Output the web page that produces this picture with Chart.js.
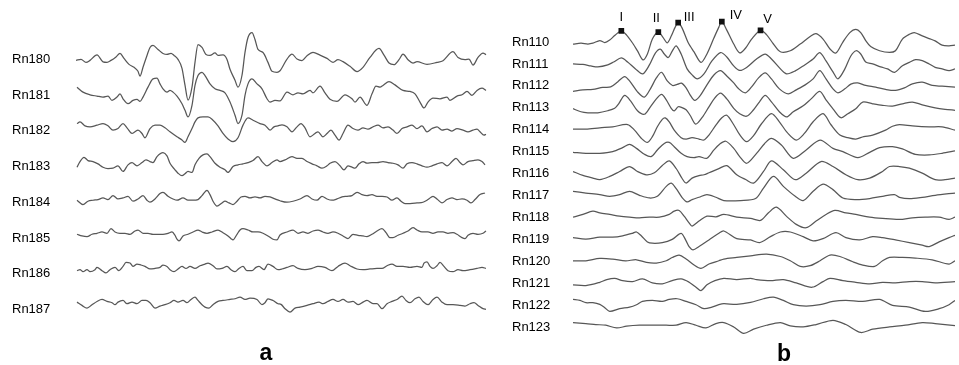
<!DOCTYPE html>
<html>
<head>
<meta charset="utf-8">
<script src="https://cdn.jsdelivr.net/npm/chart.js@4"></script>
<style>
  html, body { margin: 0; padding: 0; background: #fff; }
  #wrap { position: relative; width: 959px; height: 365px; overflow: hidden; }
  canvas { position: absolute; top: 0; }
  #chartA { left: 0; }
  #chartB { left: 500px; }
  .panel { position: absolute; font: bold 23px "Liberation Sans", Arial, sans-serif; color: #000; transform: translate(-50%, -50%); }
</style>
</head>
<body>
<div id="wrap">
  <canvas id="chartA" width="495" height="365"></canvas>
  <canvas id="chartB" width="459" height="365"></canvas>
  <div class="panel" style="left:266px; top:352px">a</div>
  <div class="panel" style="left:784px; top:353px">b</div>
</div>
<script>
// panel a: traces Rn180..Rn187, [time, amplitude]
const namesA = ['Rn180', 'Rn181', 'Rn182', 'Rn183', 'Rn184', 'Rn185', 'Rn186', 'Rn187'];

const rn180 = [[0,-1],[5,0],[10,-3],[14,-1],[21,4.5],[27,-2.5],[31,-3],[35,-1],[40,2.5],[44,6],[48,1],[53,-5],[58,-8],[62,-12],[64,-17],[67,-8],[71,4],[74,12],[77,14],[82,10],[87,6],[91,5],[95,6],[98,4],[102,0],[106,-9],[109,-26],[112,-41],[116,-28],[119,-3],[122,15],[126,12],[130,5],[134,4],[139,6.5],[142,4],[147,4.5],[151,0],[154,-10],[159,-21],[162,-28],[166,-16],[169,7],[172,22],[176,27],[179,20],[182,10],[187,7],[192,-3],[196,-12],[201,-13],[204,-11.5],[211,0.3],[216,5.3],[221,0.3],[226,-1.3],[231,3.7],[237,7],[244,4.3],[251,1],[257,-3],[262,-0.3],[267,-2.3],[274,-7],[281,-12.3],[287,-8],[294,2],[303,11],[308,4.3],[313,-3.7],[318,-5.3],[323,-0.3],[327,5.3],[332,-0.3],[337,-3.7],[341,-2.3],[351,-5],[361,-3],[367,-1.3],[377,7.7],[382,2],[389,-0.3],[393,0.3],[397,-5.7],[402,2],[407,6.3],[410,4.7]];
const rn181 = [[1,8],[7,3],[14,0.3],[21,-1],[27,-2],[32,-1],[36,-5.3],[41,-2],[44,1.3],[47,-3.7],[52,-8.7],[57,-5.3],[61,-4.3],[64,-6.3],[67,-2],[72,8],[77,16.3],[81,17],[84,11.3],[87,6.3],[91,3],[94,4.7],[97,3],[101,-1],[106,-8.7],[109,-15.3],[112,-22],[116,-10.3],[119,9.7],[122,19.7],[126,23],[129,19.7],[134,11.3],[139,6.3],[144,4.7],[149,2.3],[154,-7],[159,-20.3],[162,-28.7],[166,-20.3],[169,-0.3],[172,11.3],[176,16.3],[181,11.3],[186,6.3],[191,-3.7],[194,-7],[199,-5.3],[204,-5.8],[211,3],[217,0.3],[222,2.3],[227,1.3],[234,4.7],[237,2.3],[244,9],[249,2.3],[254,-4.3],[261,-6.3],[269,0.3],[276,-3.7],[279,-7],[284,-2],[291,-10.3],[296,1.3],[300,9],[304,8],[307,9.7],[313,13.7],[319,10.3],[327,4.7],[334,3.7],[339,1.3],[344,-7],[348,-13],[352,-7],[357,-3],[364,-3.7],[371,-2],[374,-5.3],[381,-1],[386,0.3],[391,3.7],[396,-0.3],[401,4.7],[406,7],[410,4.7]];
const rn182 = [[1,7.3],[4,9],[9,5],[14,4],[21,5.7],[27,7.3],[32,5],[37,0.7],[42,2.3],[47,7.3],[51,3],[56,-2.7],[59,-1],[62,0.7],[66,-2.7],[69,-7],[74,2.3],[79,5.7],[84,5.7],[89,3],[94,-1],[101,-6],[106,-9.3],[109,-11.7],[112,-6],[116,2.3],[119,9],[122,13],[127,14],[132,14],[137,10.7],[142,5],[147,-2.7],[152,-8.3],[157,-11],[162,-7],[167,5.7],[172,13],[177,10.7],[184,7.3],[189,5.7],[194,0.7],[198,4],[202,5],[206,6],[211,4],[216,-1],[221,4],[225,7.3],[229,3],[234,-6],[239,-2.7],[242,-1],[247,-6],[251,-2.7],[255,0.7],[259,-4.3],[263,-9.3],[267,-2.7],[272,5.7],[277,2.3],[282,0.7],[287,3],[292,1.7],[297,4],[302,5.7],[307,3],[312,4],[317,0.7],[321,-2.7],[326,2.3],[331,4],[336,5.7],[341,2.3],[346,5],[351,-1],[356,2.3],[361,4],[366,0.7],[371,1.7],[376,-0.3],[381,2.3],[387,0.7],[392,-1],[397,0.7],[401,1.7],[404,-1],[408,-4.3],[410,-3.5]];
const rn183 = [[1,-0.7],[4,5],[8,9.3],[12,6],[17,5],[22,2.7],[27,-0.7],[32,-2],[37,-1.7],[42,0.7],[47,-5],[52,1.7],[56,4],[61,0.7],[66,4],[70,6.7],[74,5],[77,4],[81,10],[87,14],[91,10.7],[94,3.3],[99,-3.3],[102,-6.7],[106,-9.3],[109,-7.3],[112,-5],[116,-6],[119,1.7],[123,8.3],[127,11.7],[131,12.7],[134,10],[139,3.3],[144,-0.7],[149,-3.3],[152,-6],[157,0],[162,1.7],[167,2.7],[172,4],[177,6],[182,10],[186,5],[191,0.7],[196,4],[201,6.7],[204,5],[209,6.7],[216,10],[221,8.3],[226,8.3],[231,5],[236,2.7],[241,0.7],[246,-1.7],[251,0.7],[254,3.3],[259,5],[264,0.7],[268,-3.3],[272,0.7],[276,-0.7],[279,-1.7],[283,2.7],[287,5],[291,3.3],[296,4],[301,4],[307,5],[312,4],[317,3.3],[322,1.7],[327,-1.7],[331,2.7],[336,4],[341,2.7],[346,0.7],[351,-0.7],[356,0.7],[361,2.7],[366,4],[371,0.7],[376,5],[380,8.3],[384,4],[387,1.7],[392,5],[397,6],[402,6.7],[406,5],[409,1.7]];
const rn184 = [[1,2],[7,-2.3],[12,1],[17,2],[22,2.7],[27,4.3],[32,2.7],[37,6.7],[42,3.3],[47,4.3],[52,6],[57,1],[62,3.3],[67,6.7],[71,2],[74,0],[79,3.3],[84,8.7],[87,10],[92,6],[97,3.3],[101,2],[107,4.3],[112,2],[117,2],[122,2.7],[126,6.7],[131,12],[134,7.7],[137,1],[141,-4],[146,-0.7],[149,1],[153,-0.7],[157,-2.3],[161,1],[165,5.3],[169,6],[174,4.3],[179,5.3],[184,4.3],[189,6],[194,5.3],[199,3.3],[204,1.5],[211,0],[217,1],[224,3.3],[231,6.7],[236,3.3],[241,2],[246,6],[251,3.3],[256,2],[261,3.3],[266,5.3],[271,6],[276,6.7],[281,10],[286,7.7],[291,6.7],[296,7.7],[301,6],[306,6],[311,5.3],[316,2],[321,4.3],[325,1],[329,-1.3],[334,-1.3],[341,-0.7],[347,0],[352,2.7],[357,6],[361,3.3],[366,-0.7],[371,2.7],[376,4.3],[381,2.7],[386,3.3],[391,2],[395,-0.7],[399,2.7],[404,7.7],[409,9.3]];
const rn185 = [[1,3.7],[6,2],[11,1.3],[16,3.7],[21,4.7],[26,6],[31,4.7],[35,9.3],[39,6],[44,4.7],[49,4.7],[54,3.7],[59,7],[62,8],[67,4.7],[72,4.7],[77,3.7],[82,3.7],[87,3.7],[92,4.7],[96,6],[99,2.7],[101,-1.3],[103,-3],[107,2],[112,3.7],[117,6],[122,8],[126,6],[131,4.7],[136,6],[142,8],[147,5.3],[152,2],[155,-0.7],[157,-2],[161,3.7],[164,8],[167,9.3],[172,8],[177,6],[182,6],[187,4.7],[192,2],[197,-1.3],[201,-2],[204,3],[211,6],[217,8],[222,4.7],[227,6],[232,4.7],[237,7],[242,8],[247,6],[252,4.7],[257,6],[262,4.7],[267,2],[272,-0.7],[277,3.7],[282,2.7],[287,2],[291,1.3],[296,3.7],[301,7],[306,9.3],[310,5.3],[314,0.3],[317,0.3],[322,2.7],[327,4.7],[332,7],[337,10.3],[341,8],[346,6],[352,6],[357,4.7],[362,6],[367,6],[372,4.7],[377,5.3],[381,3.7],[386,0.3],[389,-0.7],[392,2.7],[397,4.7],[402,3.7],[407,4.7],[410,7]];
const rn186 = [[1,3],[4,4],[7,2],[11,4],[14,2],[19,4],[21,6.3],[26,3],[30,0.7],[34,4],[39,6.3],[43,3],[47,7.3],[50,11.3],[54,10.7],[57,7.3],[61,9.7],[65,8.7],[69,7.3],[74,4.7],[79,5.3],[84,6.3],[87,8.7],[91,7.3],[94,4],[98,2],[102,4.7],[106,7.3],[110,5.3],[114,7.3],[119,5.3],[124,8],[129,9.7],[132,10.7],[137,8],[141,4.7],[146,5.3],[151,7.3],[155,4],[159,2],[163,5.3],[167,7.3],[171,3],[176,3],[180,6.3],[183,7.3],[188,4],[192,9.7],[197,7.3],[202,4],[206,4.7],[211,6.3],[217,8],[222,5.3],[229,4],[236,5.3],[242,7.3],[249,6.3],[256,3],[262,7.3],[269,10.7],[274,8],[281,4.7],[287,4],[294,4.7],[301,5.3],[306,5.3],[311,8],[316,9.7],[321,7.3],[327,7.3],[334,6.3],[341,7.3],[346,6.3],[348,10.7],[351,12],[354,7.3],[357,5.3],[361,8],[364,11.3],[368,7.3],[372,3],[377,2],[382,4],[387,3],[394,4],[401,5.3],[406,6.3],[410,5.3]];
const rn187 = [[1,7.3],[6,4],[11,1.3],[16,4.7],[21,8],[26,10],[31,8],[36,6.7],[39,4.7],[42,7.3],[47,9],[51,5.7],[56,7.3],[61,5.7],[66,9],[70,9],[74,6.7],[79,1.3],[84,3.3],[89,4.7],[94,6.7],[98,9],[102,7.3],[107,9],[111,6.7],[115,10],[119,12.3],[122,9],[126,4.7],[129,2.3],[133,1.3],[137,4.7],[142,8],[147,9],[154,10],[159,10.7],[164,12.3],[169,10],[174,11.3],[181,10],[186,4.7],[189,6.7],[192,10.7],[197,9],[202,5.7],[205,5],[209,0.7],[214,-2.7],[219,1.3],[224,2.3],[231,4],[237,5.7],[243,7.3],[247,5.7],[252,8],[257,10],[262,8],[267,10],[272,7.3],[277,8],[282,4.7],[287,7.3],[291,9],[297,5.7],[301,5.7],[306,0.7],[311,5.7],[316,8],[321,10],[326,13.3],[330,9],[334,6.7],[339,10.7],[343,12.3],[347,8],[352,4.7],[357,10],[361,12.3],[366,7.3],[371,4.7],[377,4.7],[384,4],[389,3.3],[394,5.7],[398,6.7],[402,4],[407,0.7],[410,0]];

const tracesA = [rn180, rn181, rn182, rn183, rn184, rn185, rn186, rn187];

// panel b: traces Rn110..Rn123
const namesB = ['Rn110', 'Rn111', 'Rn112', 'Rn113', 'Rn114', 'Rn115', 'Rn116', 'Rn117', 'Rn118', 'Rn119', 'Rn120', 'Rn121', 'Rn122', 'Rn123'];

const rn110 = [[0,-2.2],[8,-1.2],[15,-2],[20,-1.2],[27,1.5],[32,-0.5],[37,2],[42,6.5],[48.7,11.2],[54,7],[60,-1],[65,-9],[70.5,-18],[75,-12],[80,3],[86,10],[90.5,5],[95,-0.8],[99,6],[103,15],[106,19.5],[110,14],[116,-0.5],[122,-10],[129,-20.5],[135,-12],[142,4],[147,15],[150,20.5],[155,12],[162,-2],[168,-11],[174,-6],[180,3],[189,11.8],[195,7.5],[202,-2],[209,-9.8],[219,-8.8],[229,-2],[239,5.5],[245,8.5],[252,3],[259,-7],[265,-11],[272,0],[279,9.5],[285,12.8],[290,9.5],[295,1.5],[300,-4.5],[309,-8.8],[319,-10.5],[325,-8.8],[332,3],[339,7.8],[344,9.5],[352,6.2],[359,3.5],[365,1.2],[372,-3.2],[379,-3.8],[385,-3.2]];
const rn111 = [[0,0],[10,-0.5],[18,-2],[25,-3],[35,-1],[41,2],[48.7,6],[55,2],[63,-5],[70.3,-10],[77,-1],[83,11],[88,15],[92,10],[96,6.5],[100,13],[104,18.3],[109,10],[115,-5],[120,-11],[125.3,-15],[132,-10],[140,3],[148.7,11.5],[155,7],[162,-2],[168,-6.5],[175,-3.5],[185,5],[193.7,10],[200,5],[210,-6],[215.3,-10],[224,-7],[232,-2],[242,5],[248.7,11.5],[255,3],[262,-8],[267,-15],[274,-5],[280,8],[285.3,13.3],[290,10],[295,2],[302,0],[310,-3],[317,-5],[324,-8.4],[332,-1.8],[339,1.6],[345.3,4.3],[352,3.3],[359,0],[365,-3.4],[372,-5],[379,-6.7],[385,-5]];
const rn112 = [[0,-5.6],[10,-4],[20,-3.5],[30,-1.5],[38,-1],[45,4],[52,9.4],[57,5],[65,-6],[72,-11.3],[78,-3],[84,8],[89.3,13.7],[95,5],[100.3,0.4],[105,1.5],[109.3,2.7],[114,-2],[118,-9],[122.7,-14.6],[128,-10],[135,1],[142,11],[148.7,15.4],[155,10],[162,3],[167,-3],[173.7,-7],[180,-1],[187,8],[193.7,13],[200,7],[208,-3],[217,-8],[225,-4],[234,1],[242,7],[248.7,15.4],[255,7],[262,-3],[267,-7],[274,-3],[280,1.7],[287,3],[295,0.4],[305,-1.3],[315,-3.6],[325,-4.6],[334,-2],[342,2],[352,3.7],[362,0.4],[372,-0.3],[385,-1.3]];
const rn113 = [[0,-0.9],[8,-4],[15,-5],[25,-5],[35,-3],[42,-0.5],[46,4],[52,12.5],[58,7],[65,-3],[72,-6.5],[78,1],[84,9],[89.3,13.5],[94,8],[99,-0.5],[102,-3.2],[106,1],[109.3,0.5],[114,-2],[118,-7.5],[123.7,-16.5],[130,-10],[137,1],[143,10],[148.7,14.8],[155,9],[162,-0.5],[168,-6],[175,-8.5],[182,-2],[188,6],[193.7,12.5],[200,6],[208,-4],[215.3,-9.2],[222,-4],[232,2],[240,9],[248.7,16.5],[255,8],[262,-1],[270,-10],[277,-6],[285,-1],[292,5.8],[302,4],[312,2.5],[322,1.8],[332,4],[342,5.8],[352,3],[365,0],[375,-1.5],[385,-2.5]];
const rn114 = [[0,0.6],[13,0.6],[27,1.9],[40,2.9],[55,5.2],[62,-0.4],[69,-8.8],[75,-12.8],[80,-7],[85,3],[90,10.5],[93,11.9],[97,7.9],[102,-0.4],[109,-8],[114,-9.4],[120,-8],[127,-9.4],[132,-10.4],[137,-5.4],[144,4.6],[150,12],[155,14.5],[162,5],[168,-5],[175,-12.1],[182,-6],[190,6],[200,16.2],[208,8],[216,-3],[225,-10.4],[233,-4],[242,8],[252,16.2],[260,5],[269,-5.4],[277,-8],[285,-9.4],[293,-7],[302,-5.4],[315,-0.4],[322,3.5],[329,5.2],[342,3.9],[359,2.9],[372,2.9],[385,-0.4]];
const rn115 = [[0,-0.7],[13,-1.7],[27,-1.7],[40,0],[50,4],[57,7.3],[64,3.3],[72,-2.7],[78.7,-5],[85,1.7],[92,8.3],[97,9.3],[102,5],[109,-1.7],[115,-5],[122,-6],[127,-5],[135,-6.7],[142,1.7],[148,7.7],[154,10.5],[162,3.3],[168,-5],[175,-11.7],[185,-1.7],[193,8],[200,13.3],[210,6.7],[222,-6.7],[235,1.7],[249,11.7],[262,3.3],[272,0],[287,-6],[299,-0.7],[309,4],[322,5],[332,2.7],[345,-2.7],[359,-3.3],[372,-1.7],[385,0.7]];
const rn116 = [[0,2.1],[10,-1.9],[20,-4.6],[27,-6.2],[37,-2.9],[47,2.1],[57,7.1],[65,2.1],[74,-1.2],[82,0.8],[90,8.1],[97,12.8],[104,5.1],[110,-5],[114,-9.6],[120,-4.6],[127,-2],[132,-1.2],[137,0.8],[147,5],[155,8],[165,-1.2],[174,-6],[182,-9.6],[192,2.1],[200,12.8],[212,3.8],[224,-6.2],[235,0.4],[250,12.1],[262,7.1],[275,-1.2],[287,-6.2],[299,-4.6],[312,2.1],[319,7.1],[329,7.1],[339,5.4],[352,0.4],[365,-6.2],[375,-6.2],[385,-4.6]];
const rn117 = [[0,4.2],[13,2.5],[27,0.9],[37,-0.8],[47,0.9],[57,4.2],[67,0.2],[77,-2.5],[85,-0.8],[94,9.2],[99,12.5],[104,6.9],[110,-2.1],[115,-6.5],[120,-4.1],[127,-1.8],[135,0.9],[144,-1.8],[152,-5.1],[169,-5.1],[184,-3.1],[192,7.5],[202,19.2],[212,9.2],[224,-0.8],[232,-5.1],[242,4.2],[252,11.5],[262,5.9],[272,-2.5],[285,-4.1],[299,-3.1],[312,-0.8],[324,0.9],[329,-1.8],[339,-3.1],[352,-1.8],[365,0.2],[385,2.5]];
const rn118 = [[0,0.3],[10,3],[20,6.3],[27,4.6],[37,3],[47,1.3],[57,0.3],[67,-0.4],[77,0.3],[87,0.3],[97,3],[102,6.3],[107,7],[112,1.3],[117,-5.4],[120,-8.7],[127,-3.7],[135,1.3],[144,0.5],[152,3],[165,0.3],[179,-1],[189,-3],[197,4.6],[205,10.3],[215,1.3],[225,-7],[235,-10.4],[245,-3.7],[255,3],[264,7],[275,4.6],[285,3],[299,0.3],[312,-1],[329,-2],[342,-0.4],[355,0.3],[369,0.3],[379,-2],[385,0.3]];
const rn119 = [[0,1.7],[13,0.2],[27,2.2],[40,2.2],[50,3.6],[60,6.1],[64,7.4],[69,3.4],[75,-2.6],[80,-3.9],[90,-3.3],[100,0],[109,6.1],[114,-1.6],[117,-7.3],[121,-10.6],[127,-7.3],[137,-0.6],[147,6.1],[152,8.4],[165,0.7],[179,-0.6],[188,-3.3],[199,2.7],[209,7.4],[219,7.4],[232,2.7],[242,-1.6],[252,0.7],[265,6.7],[275,1.7],[289,-0.6],[302,2.7],[312,1.7],[325,-0.6],[339,-3.3],[352,-5.9],[359,-7.3],[369,-2.6],[379,1.7],[385,4.1]];
const rn120 = [[0,0.5],[13,0.5],[27,2.8],[40,2.2],[53,0.5],[64,1.5],[74,-1.2],[84,-1.8],[94,0.5],[100,3.8],[107,6.2],[114,2.2],[122,-3.8],[129,-7.2],[137,-2.8],[147,0.5],[152,2.2],[165,3.8],[179,5.5],[195,7.2],[209,4.8],[219,0.5],[229,-5.2],[239,-4.5],[249,0.5],[259,6.2],[269,4.8],[282,-0.5],[292,-3.8],[304,-5.2],[312,0.5],[319,3.8],[332,3.8],[345,3.2],[362,1.5],[379,-2.8],[385,0.5]];
const rn121 = [[0,-1.7],[13,-2.4],[27,0.9],[34,3.6],[42,4.9],[50,2.6],[60,1.6],[70,4.3],[80,0.3],[90,-0.7],[100,2.6],[109,4.3],[117,1],[124,-4],[129,-7.4],[135,-1.7],[143,2.6],[152,4.9],[165,3.6],[179,4.9],[185,3.6],[199,2.6],[212,3.6],[225,0.3],[241,-4.1],[252,1.6],[259,4.9],[272,2.6],[285,0.9],[299,-0.7],[312,0.9],[325,0.3],[339,1.6],[352,1.6],[365,0.3],[385,1.6]];
const rn122 = [[0,5.7],[7,4.7],[13,2.4],[20,2.4],[27,0.7],[32,-2.6],[37,-6.3],[47,-3.6],[57,-2],[64,0.4],[70,3.7],[80,4.7],[90,3.7],[97,5.7],[105,6.4],[114,3.7],[124,0.4],[132,-3.6],[140,-2],[147,0.4],[152,1.4],[165,0.7],[179,2.7],[192,6.4],[202,8],[212,4.7],[222,0.4],[235,-1],[249,0.4],[262,3.7],[275,4.7],[292,3.7],[309,5.7],[322,-0.3],[339,-2],[355,-6.3],[369,-3.6],[379,0.4],[385,4.7]];
const rn123 = [[0,4.5],[13,3.5],[23,2.5],[33,1.8],[44,-0.9],[54,0.8],[67,1.8],[80,1.8],[94,1.8],[104,1.8],[114,4.5],[124,1.8],[134,-0.9],[144,3.5],[152,4.5],[162,0.1],[172,-6.5],[182,-2.2],[195,1.8],[209,4.5],[219,1.1],[232,0.1],[245,2.5],[262,6.8],[275,2.5],[290,-5.5],[302,-2.2],[319,0.1],[335,1.8],[352,4.5],[365,3.5],[385,1.5]];

const tracesB = [rn110, rn111, rn112, rn113, rn114, rn115, rn116, rn117, rn118, rn119, rn120, rn121, rn122, rn123];

// wave peaks marked on Rn110
const waveNames = ['I', 'II', 'III', 'IV', 'V'];
const waveTimes = [48.7, 86, 106, 150, 189];
const waveLabelShift = [[0, -13], [-2, -14], [11, -5], [14, -6], [7, -11]];

const FONT = '"Liberation Sans", Arial, Helvetica, sans-serif';
const LINE = '#575757';

function stackOffsets(n, gap) {
  return Array.from({ length: n }, (_, i) => (n - 1 - i) * gap);
}

function buildChart(id, names, traces, o) {
  const offs = stackOffsets(names.length, o.gap);
  const datasets = traces.map((tr, i) => ({
    label: names[i],
    data: tr.map(([t, v]) => ({ x: t, y: offs[i] + v })),
    borderColor: LINE,
    borderWidth: 1.25,
    pointRadius: 0,
    cubicInterpolationMode: o.smooth ? 'default' : 'monotone',
    tension: o.smooth || 0,
    fill: false
  }));
  if (o.markers) datasets.push(o.markers(offs));

  return new Chart(document.getElementById(id), {
    type: 'line',
    data: { datasets },
    options: {
      responsive: false,
      animation: false,
      devicePixelRatio: 1,
      layout: { padding: { left: o.padLeft, right: o.padRight, top: 5, bottom: 10 } },
      plugins: { legend: { display: false }, tooltip: { enabled: false } },
      scales: {
        x: { type: 'linear', min: 0, max: o.xMax, display: false },
        y: {
          type: 'linear',
          min: o.yMin,
          max: o.yMax,
          grid: { display: false, drawTicks: false },
          border: { display: false },
          afterBuildTicks: s => { s.ticks = offs.map(v => ({ value: v })); },
          afterFit: s => { s.width = o.axisWidth; },
          ticks: {
            autoSkip: false,
            crossAlign: 'far',
            padding: 0,
            color: '#000',
            font: { family: FONT, size: 13 },
            callback: (v, i) => names[i]
          }
        }
      }
    },
    plugins: o.plugins || []
  });
}

// roman numerals next to the marked peaks
const waveLabels = {
  id: 'waveLabels',
  afterDatasetsDraw(chart) {
    const meta = chart.getDatasetMeta(tracesB.length);
    const ctx = chart.ctx;
    ctx.save();
    ctx.font = '13px ' + FONT;
    ctx.fillStyle = '#000';
    ctx.textAlign = 'center';
    ctx.textBaseline = 'middle';
    meta.data.forEach((pt, i) => {
      const [dx, dy] = waveLabelShift[i];
      ctx.fillText(waveNames[i], pt.x + dx, pt.y + dy);
    });
    ctx.restore();
  }
};

buildChart('chartA', namesA, tracesA, {
  gap: 36, yMin: -46, yMax: 304, xMax: 411,
  padLeft: 12, padRight: 8, axisWidth: 64
});

buildChart('chartB', namesB, tracesB, {
  gap: 22.1, yMin: -28.2, yMax: 321.8, xMax: 385,
  padLeft: 12, padRight: 1, axisWidth: 61, smooth: 0.3,
  plugins: [waveLabels],
  markers: offs => ({
    label: 'peaks',
    data: waveTimes.map(t => ({ x: t, y: offs[0] + rn110.find(p => p[0] === t)[1] })),
    showLine: false,
    pointStyle: 'rect',
    pointRadius: 4,
    pointBackgroundColor: '#111',
    pointBorderColor: '#111',
    pointBorderWidth: 0,
    order: -1
  })
});
</script>
</body>
</html>
